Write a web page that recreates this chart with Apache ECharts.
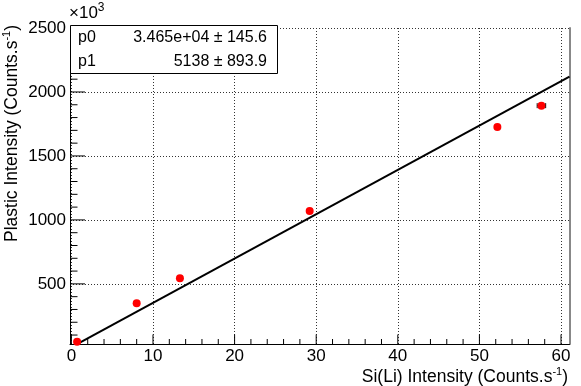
<!DOCTYPE html>
<html><head><meta charset="utf-8">
<script src="https://cdn.jsdelivr.net/npm/echarts@6/dist/echarts.min.js"></script>
<style>html,body{margin:0;padding:0;background:#fff}#c{width:581px;height:386px}</style>
</head><body><div id="c"></div>
<script>
// data (y in units of 10^3 counts/s)
const xVals = [0.7, 8.0, 13.3, 29.2, 52.2, 57.6];
const yVals = [47, 349, 544, 1070, 1727, 1893];
const xErr = [0.05, 0.1, 0.1, 0.2, 0.3, 0.52];
// fit: y = p0*x + p1 (counts/s)
const fitNames = ['p0', 'p1'];
const fitValues = [3.465e4, 5138];
const fitValueText = ['3.465e+04', '5138'];
const fitErrText = ['145.6', '893.9'];
const fitRange = [0.75, 61.04];
// ticks
const xTicks = [0, 10, 20, 30, 40, 50, 60];
const xMinor = [2,4,6,8,12,14,16,18,22,24,26,28,32,34,36,38,42,44,46,48,52,54,56,58];
const yTicks = [500, 1000, 1500, 2000, 2500];
const yMinor = [100,200,300,400,600,700,800,900,1100,1200,1300,1400,1600,1700,1800,1900,2100,2200,2300,2400];
const xRange = [-0.17, 61.04];
const yRange = [30, 2500];

const FONT = '"Liberation Sans", Arial, Helvetica, sans-serif';
const points = xVals.map((x, i) => [x, yVals[i]]);
const fitLine = fitRange.map(x => [x, (fitValues[0] * x + fitValues[1]) / 1000]);
const errData = xVals.map((x, i) => [x, yVals[i], xErr[i]]);

const chart = echarts.init(document.getElementById('c'), null, {renderer: 'canvas'});
const dotted = {show: true, lineStyle: {color: '#333', width: 1, type: [1, 2]}};
function tickSeries(vals, isX, len) {
  return {type: 'scatter', silent: true, clip: false, xAxisIndex: 0, yAxisIndex: 0, z: 6,
    data: vals.map(v => isX ? [v, yRange[0]] : [xRange[0], v]),
    symbol: 'rect',
    symbolSize: isX ? [1, len] : [len, 1],
    symbolOffset: isX ? [0, -len / 2] : [len / 2, 0],
    itemStyle: {color: '#000', opacity: 1}};
}
const option = {
  animation: false,
  backgroundColor: '#fff',
  grid: {left: 70, right: 11.5, top: 28, bottom: 42, containLabel: false},
  xAxis: [
    {type: 'value', min: xRange[0], max: xRange[1], position: 'bottom',
     axisLine: {show: true, onZero: false, lineStyle: {color: '#000', width: 1}},
     axisTick: {show: false},
     axisLabel: {customValues: xTicks, fontSize: 17, color: '#000', fontFamily: FONT, margin: 4, formatter: v => String(v)},
     splitLine: dotted}
  ],
  yAxis: [
    {type: 'value', min: yRange[0], max: yRange[1], position: 'left',
     axisLine: {show: true, onZero: false, lineStyle: {color: '#000', width: 1}},
     axisTick: {show: false},
     axisLabel: {customValues: yTicks, fontSize: 17, color: '#000', fontFamily: FONT, margin: 4, formatter: v => String(v)},
     splitLine: dotted},
    {type: 'value', min: yRange[0], max: yRange[1], position: 'right',
     axisLine: {show: true, onZero: false, lineStyle: {color: '#888', width: 2}},
     axisTick: {show: false}, axisLabel: {show: false}, splitLine: {show: false}}
  ],
  series: [
    tickSeries(xTicks, true, 9.5),
    tickSeries(xMinor, true, 5),
    tickSeries(yTicks, false, 15),
    tickSeries(yMinor, false, 7.5),
    {type: 'line', data: fitLine, xAxisIndex: 0, yAxisIndex: 0, showSymbol: false, symbol: 'none',
     lineStyle: {color: '#000', width: 2}, z: 3},
    {type: 'custom', data: errData, xAxisIndex: 0, yAxisIndex: 0, z: 4,
     renderItem: function (params, api) {
       const x = api.value(0), y = api.value(1), e = api.value(2);
       const a = api.coord([x - e, y]), b = api.coord([x + e, y]);
       if (b[0] - a[0] < 6) return null;
       const st = {stroke: '#000', lineWidth: 1};
       return {type: 'group', children: [
         {type: 'line', shape: {x1: a[0], y1: a[1], x2: b[0], y2: b[1]}, style: st},
         {type: 'line', shape: {x1: a[0], y1: a[1] - 2.5, x2: a[0], y2: a[1] + 2.5}, style: st},
         {type: 'line', shape: {x1: b[0], y1: b[1] - 2.5, x2: b[0], y2: b[1] + 2.5}, style: st}
       ]};
     }},
    {type: 'scatter', data: points, xAxisIndex: 0, yAxisIndex: 0, symbol: 'circle', symbolSize: 8,
     itemStyle: {color: '#ff0000', opacity: 1}, z: 5}
  ],
  graphic: [
    {type: 'rect', z: 100, shape: {x: 70.5, y: 25.5, width: 207, height: 48},
     style: {fill: '#fff', stroke: '#000', lineWidth: 1}},
    {type: 'text', z: 101, x: 78, y: 38, style: {text: fitNames[0], font: '16px ' + FONT, fill: '#000', textVerticalAlign: 'middle'}},
    {type: 'text', z: 101, x: 78, y: 62, style: {text: fitNames[1], font: '16px ' + FONT, fill: '#000', textVerticalAlign: 'middle'}},
    {type: 'text', z: 101, x: 267, y: 38, style: {text: fitValueText[0] + ' \u00b1 ' + fitErrText[0], font: '16px ' + FONT, fill: '#000', textAlign: 'right', textVerticalAlign: 'middle'}},
    {type: 'text', z: 101, x: 267, y: 62, style: {text: fitValueText[1] + ' \u00b1 ' + fitErrText[1], font: '16px ' + FONT, fill: '#000', textAlign: 'right', textVerticalAlign: 'middle'}},
    {type: 'text', z: 101, x: 69, y: 12, style: {
      text: '{a|\u00d710}{s|3}', textVerticalAlign: 'middle',
      rich: {a: {fontSize: 17, fontFamily: FONT, color: '#000', lineHeight: 20, verticalAlign: 'bottom'},
             s: {fontSize: 12, fontFamily: FONT, color: '#000', lineHeight: 20, verticalAlign: 'top'}}}},
    {type: 'text', z: 101, x: 568, y: 376, style: {
      text: '{a|Si(Li) Intensity (Counts.s}{s|-1}{a|)}', textAlign: 'right', textVerticalAlign: 'middle',
      rich: {a: {fontSize: 17.5, fontFamily: FONT, color: '#000', lineHeight: 20, verticalAlign: 'bottom'},
             s: {fontSize: 11, fontFamily: FONT, color: '#000', lineHeight: 20, verticalAlign: 'top'}}}},
    {type: 'text', z: 101, x: 11, y: 25, rotation: Math.PI / 2, style: {
      text: '{a|Plastic Intensity (Counts.s}{s|-1}{a|)}', textAlign: 'right', textVerticalAlign: 'middle',
      rich: {a: {fontSize: 17.5, fontFamily: FONT, color: '#000', lineHeight: 20, verticalAlign: 'bottom'},
             s: {fontSize: 11, fontFamily: FONT, color: '#000', lineHeight: 20, verticalAlign: 'top'}}}}
  ]
};
chart.setOption(option);
</script></body></html>
